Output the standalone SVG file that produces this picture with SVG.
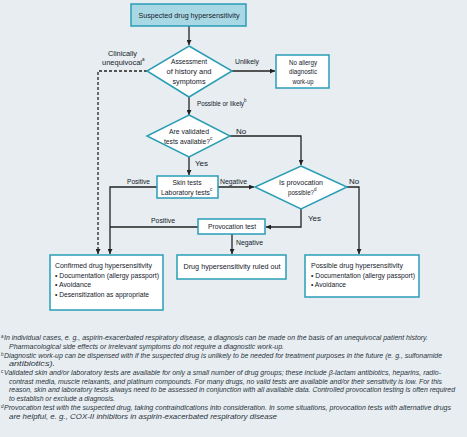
<svg xmlns="http://www.w3.org/2000/svg" width="467" height="437" viewBox="0 0 467 437">
<defs>
<style>
.box{fill:#ffffff;stroke:#2a9db5;stroke-width:1.5}
.top{fill:#a9d8e5;stroke:#2a9db5;stroke-width:1.5}
.t{font-family:"Liberation Sans",Arial,sans-serif;font-size:8px;fill:#15202a}
.c{text-anchor:middle}
.ln{fill:none;stroke:#222;stroke-width:1.3}
.dash{stroke-dasharray:3,2}
.fn{font-family:"Liberation Sans",Arial,sans-serif;font-size:6.6px;font-style:italic;fill:#2a3440}
.sup{font-size:4.5px}
</style>
<marker id="ah" viewBox="0 0 6 6" refX="6" refY="3" markerWidth="5" markerHeight="5" markerUnits="userSpaceOnUse" orient="auto">
<path d="M0,0 L6,3 L0,6 z" fill="#222"/>
</marker>
</defs>
<rect x="0" y="0" width="467" height="437" fill="#e7edf0"/>

<g id="connectors">
<path class="ln" d="M189,26 V45" marker-end="url(#ah)"/>
<path class="ln" d="M232,71 H275" marker-end="url(#ah)"/>
<path class="ln" d="M189,97 V115" marker-end="url(#ah)"/>
<path class="ln dash" d="M147,71 H98 V254" marker-end="url(#ah)"/>
<path class="ln" d="M230,136 H301 V165" marker-end="url(#ah)"/>
<path class="ln" d="M189,157 V175" marker-end="url(#ah)"/>
<path class="ln" d="M218,187 H254" marker-end="url(#ah)"/>
<path class="ln" d="M157,187 H110 V254" marker-end="url(#ah)"/>
<path class="ln" d="M347,187 H359 V254" marker-end="url(#ah)"/>
<path class="ln" d="M301,209 V227 H266" marker-end="url(#ah)"/>
<path class="ln" d="M198,227 H110"/>
<path class="ln" d="M232,233 V254" marker-end="url(#ah)"/>
<text class="t" x="108" y="56" textLength="29" lengthAdjust="spacingAndGlyphs">Clinically</text>
<text class="t" x="102" y="65"><tspan textLength="40" lengthAdjust="spacingAndGlyphs">unequivocal</tspan><tspan class="sup" dy="-4">a</tspan></text>
<text class="t" x="235" y="64" textLength="24" lengthAdjust="spacingAndGlyphs">Unlikely</text>
<text class="t" x="197" y="106"><tspan textLength="47" lengthAdjust="spacingAndGlyphs">Possible or likely</tspan><tspan class="sup" dy="-4">b</tspan></text>
<text class="t" x="236" y="134">No</text>
<text class="t" x="195" y="166">Yes</text>
<text class="t" x="127" y="184" textLength="23" lengthAdjust="spacingAndGlyphs">Positive</text>
<text class="t" x="220" y="184" textLength="27" lengthAdjust="spacingAndGlyphs">Negative</text>
<text class="t" x="349" y="184">No</text>
<text class="t" x="308" y="221">Yes</text>
<text class="t" x="151" y="223" textLength="24" lengthAdjust="spacingAndGlyphs">Positive</text>
<text class="t" x="236" y="245" textLength="27" lengthAdjust="spacingAndGlyphs">Negative</text>
</g>

<g id="start">
<rect class="top" x="131" y="4" width="115" height="22"/>
<text class="t c" x="189" y="18" textLength="101" lengthAdjust="spacingAndGlyphs">Suspected drug hypersensitivity</text>
</g>

<g id="assessment">
<polygon class="box" points="189,46 232,71 189,97 147,71"/>
<text class="t c" x="189" y="64" textLength="36" lengthAdjust="spacingAndGlyphs">Assessment</text>
<text class="t c" x="189" y="74" textLength="45" lengthAdjust="spacingAndGlyphs">of history and</text>
<text class="t c" x="189" y="84" textLength="33" lengthAdjust="spacingAndGlyphs">symptoms</text>
</g>

<g id="no-workup">
<rect class="box" x="276" y="55" width="53" height="33"/>
<text class="t c" x="303" y="65" textLength="28" lengthAdjust="spacingAndGlyphs">No allergy</text>
<text class="t c" x="303" y="74" textLength="28" lengthAdjust="spacingAndGlyphs">diagnostic</text>
<text class="t c" x="303" y="84" textLength="21" lengthAdjust="spacingAndGlyphs">work-up</text>
</g>

<g id="validated">
<polygon class="box" points="189,115 230,136 189,157 147,136"/>
<text class="t c" x="189" y="134" textLength="40" lengthAdjust="spacingAndGlyphs">Are validated</text>
<text class="t" x="164" y="144"><tspan textLength="46" lengthAdjust="spacingAndGlyphs">tests available?</tspan><tspan class="sup" dy="-4">c</tspan></text>
</g>

<g id="skin-tests">
<rect class="box" x="157" y="176" width="61" height="22"/>
<text class="t c" x="187" y="185" textLength="29" lengthAdjust="spacingAndGlyphs">Skin tests</text>
<text class="t" x="161" y="195"><tspan textLength="49" lengthAdjust="spacingAndGlyphs">Laboratory tests</tspan><tspan class="sup" dy="-4">c</tspan></text>
</g>

<g id="provocation-possible">
<polygon class="box" points="301,166 347,187 301,209 255,187"/>
<text class="t c" x="301" y="185" textLength="44" lengthAdjust="spacingAndGlyphs">Is provocation</text>
<text class="t" x="288" y="195"><tspan textLength="26" lengthAdjust="spacingAndGlyphs">possible?</tspan><tspan class="sup" dy="-4">d</tspan></text>
</g>

<g id="provocation-test">
<rect class="box" x="198" y="219" width="67" height="15"/>
<text class="t c" x="232" y="229" textLength="48" lengthAdjust="spacingAndGlyphs">Provocation test</text>
</g>

<g id="confirmed">
<rect class="box" x="50" y="255" width="113" height="55"/>
<text class="t" x="55" y="268" textLength="97" lengthAdjust="spacingAndGlyphs">Confirmed drug hypersensitivity</text>
<text class="t" x="55" y="278" textLength="104" lengthAdjust="spacingAndGlyphs">• Documentation (allergy passport)</text>
<text class="t" x="55" y="287" textLength="36" lengthAdjust="spacingAndGlyphs">• Avoidance</text>
<text class="t" x="55" y="297" textLength="94" lengthAdjust="spacingAndGlyphs">• Desensitization as appropriate</text>
</g>

<g id="ruled-out">
<rect class="box" x="177" y="255" width="109" height="24"/>
<text class="t c" x="232" y="269" textLength="97" lengthAdjust="spacingAndGlyphs">Drug hypersensitivity ruled out</text>
</g>

<g id="possible">
<rect class="box" x="305" y="255" width="114" height="42"/>
<text class="t" x="311" y="268" textLength="92" lengthAdjust="spacingAndGlyphs">Possible drug hypersensitivity</text>
<text class="t" x="311" y="278" textLength="104" lengthAdjust="spacingAndGlyphs">• Documentation (allergy passport)</text>
<text class="t" x="311" y="287" textLength="35" lengthAdjust="spacingAndGlyphs">• Avoidance</text>
</g>

<g id="footnotes">
<text class="fn sup" x="1" y="337.5">a</text>
<text class="fn" x="4" y="340" textLength="424" lengthAdjust="spacingAndGlyphs">In individual cases, e. g., aspirin-exacerbated respiratory disease, a diagnosis can be made on the basis of an unequivocal patient history.</text>
<text class="fn" x="9" y="349" textLength="275" lengthAdjust="spacingAndGlyphs">Pharmacological side effects or irrelevant symptoms do not require a diagnostic work-up.</text>
<text class="fn sup" x="1" y="355.5">b</text>
<text class="fn" x="4" y="358" textLength="438" lengthAdjust="spacingAndGlyphs">Diagnostic work-up can be dispensed with if the suspected drug is unlikely to be needed for treatment purposes in the future (e. g., sulfonamide</text>
<text class="fn" x="9" y="366" textLength="46" lengthAdjust="spacingAndGlyphs">antibiotics).</text>
<text class="fn sup" x="1" y="372.5">c</text>
<text class="fn" x="4" y="375" textLength="437" lengthAdjust="spacingAndGlyphs">Validated skin and/or laboratory tests are available for only a small number of drug groups; these include β-lactam antibiotics, heparins, radio-</text>
<text class="fn" x="9" y="384" textLength="433" lengthAdjust="spacingAndGlyphs">contrast media, muscle relaxants, and platinum compounds. For many drugs, no valid tests are available and/or their sensitivity is low. For this</text>
<text class="fn" x="9" y="392" textLength="446" lengthAdjust="spacingAndGlyphs">reason, skin and laboratory tests always need to be assessed in conjunction with all available data. Controlled provocation testing is often required</text>
<text class="fn" x="9" y="401" textLength="106" lengthAdjust="spacingAndGlyphs">to establish or exclude a diagnosis.</text>
<text class="fn sup" x="1" y="407.5">d</text>
<text class="fn" x="4" y="410" textLength="447" lengthAdjust="spacingAndGlyphs">Provocation test with the suspected drug, taking contraindications into consideration. In some situations, provocation tests with alternative drugs</text>
<text class="fn" x="9" y="419" textLength="268" lengthAdjust="spacingAndGlyphs">are helpful, e. g., COX-II inhibitors in aspirin-exacerbated respiratory disease</text>
</g>
</svg>
